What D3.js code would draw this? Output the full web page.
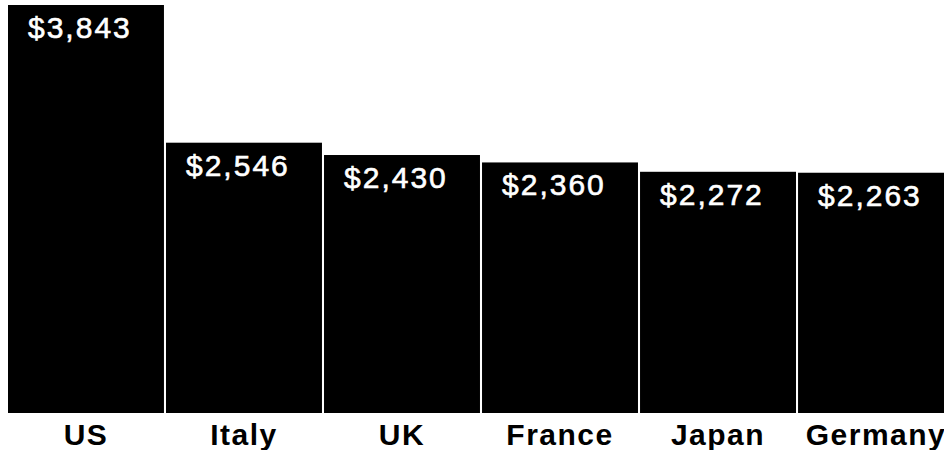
<!DOCTYPE html>
<html>
<head>
<meta charset="utf-8">
<script src="https://cdn.jsdelivr.net/npm/d3@7"></script>
<style>
  html, body { margin: 0; padding: 0; background: #fff; overflow: hidden; }
  svg { display: block; }
</style>
</head>
<body>
<script>
// Spending per country (USD)
const countries = ["US", "Italy", "UK", "France", "Japan", "Germany"];
const spending = [3843, 2546, 2430, 2360, 2272, 2263];

const W = 944, H = 450;
const svg = d3.select("body").append("svg")
  .attr("width", W).attr("height", H);

const x = d3.scaleBand()
  .domain(countries)
  .range([8, 954])
  .paddingInner(0.013)
  .paddingOuter(0);

const y = d3.scaleLinear()
  .domain([0, 3843])
  .range([413, 5]);

const fmt = v => "$" + d3.format(",")(v);

const data = countries.map((c, i) => ({ country: c, value: spending[i] }));

// bars
svg.append("g").selectAll("rect")
  .data(data)
  .join("rect")
  .attr("x", d => x(d.country))
  .attr("y", d => y(d.value))
  .attr("width", x.bandwidth())
  .attr("height", d => y(0) - y(d.value))
  .attr("fill", "#000");

// value labels inside the top of each bar
svg.append("g").selectAll("text")
  .data(data)
  .join("text")
  .attr("x", d => x(d.country) + 20)
  .attr("y", d => y(d.value) + 33)
  .attr("fill", "#fff")
  .attr("stroke", "#fff")
  .attr("stroke-width", 0.6)
  .style("font-family", "'Liberation Sans', Arial, Helvetica, sans-serif")
  .style("font-size", "30px")
  .style("letter-spacing", "2px")
  .text(d => fmt(d.value));

// category axis labels
const xAxis = d3.axisBottom(x).tickSize(0).tickPadding(0);
const gx = svg.append("g")
  .attr("transform", `translate(0, ${y(0)})`)
  .call(xAxis);
gx.select(".domain").remove();
gx.selectAll("text")
  .attr("y", 32)
  .attr("dy", 0)
  .attr("fill", "#000")
  .style("font-family", "'Liberation Sans', Arial, Helvetica, sans-serif")
  .style("font-size", "30px")
  .style("font-weight", "bold")
  .style("letter-spacing", "1.5px");
</script>
</body>
</html>
